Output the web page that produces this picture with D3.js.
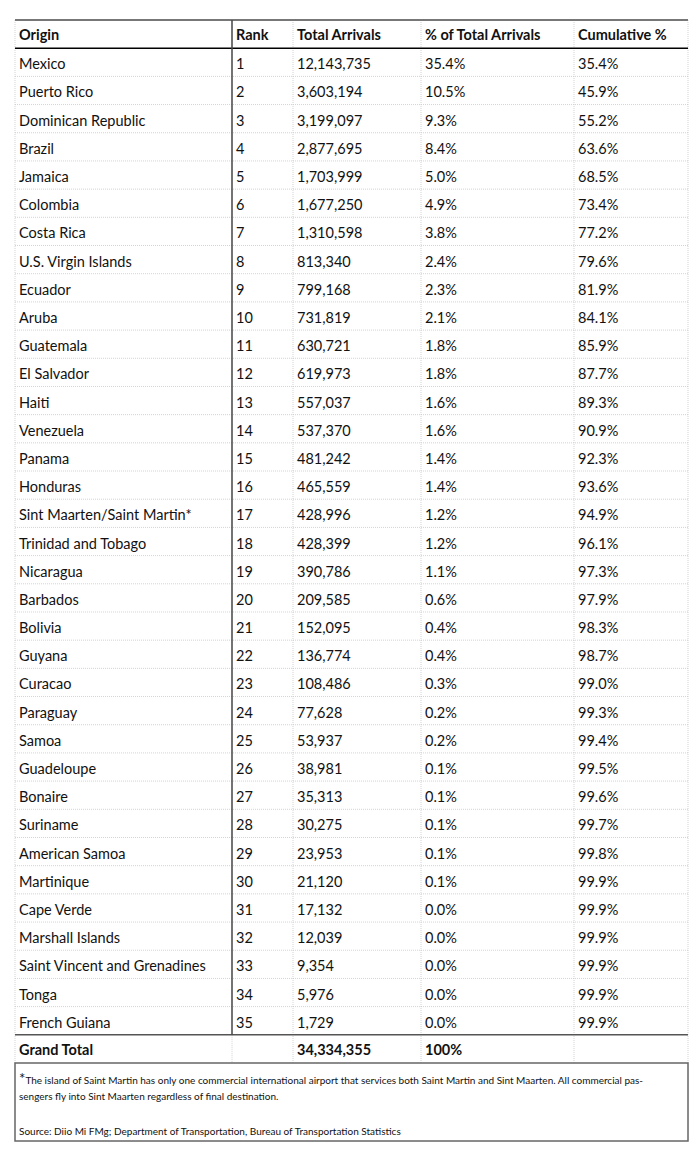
<!DOCTYPE html>
<html><head><meta charset="utf-8">
<script src="https://cdn.jsdelivr.net/npm/d3@7"></script>
<style>body{margin:0;background:#fff}svg{display:block}text{font-family:Lato,"Open Sans",sans-serif;fill:#111}</style>
</head><body><svg id="c" width="700" height="1165"></svg>
<script>
const headers = ["Origin","Rank","Total Arrivals","% of Total Arrivals","Cumulative %"];
const origins = ["Mexico","Puerto Rico","Dominican Republic","Brazil","Jamaica","Colombia","Costa Rica","U.S. Virgin Islands","Ecuador","Aruba","Guatemala","El Salvador","Haiti","Venezuela","Panama","Honduras","Sint Maarten/Saint Martin*","Trinidad and Tobago","Nicaragua","Barbados","Bolivia","Guyana","Curacao","Paraguay","Samoa","Guadeloupe","Bonaire","Suriname","American Samoa","Martinique","Cape Verde","Marshall Islands","Saint Vincent and Grenadines","Tonga","French Guiana"];
const ranks = d3.range(1, 36);
const arrivals = [12143735,3603194,3199097,2877695,1703999,1677250,1310598,813340,799168,731819,630721,619973,557037,537370,481242,465559,428996,428399,390786,209585,152095,136774,108486,77628,53937,38981,35313,30275,23953,21120,17132,12039,9354,5976,1729];
const pctTotal = ["35.4%","10.5%","9.3%","8.4%","5.0%","4.9%","3.8%","2.4%","2.3%","2.1%","1.8%","1.8%","1.6%","1.6%","1.4%","1.4%","1.2%","1.2%","1.1%","0.6%","0.4%","0.4%","0.3%","0.2%","0.2%","0.1%","0.1%","0.1%","0.1%","0.1%","0.0%","0.0%","0.0%","0.0%","0.0%"];
const cumPct = ["35.4%","45.9%","55.2%","63.6%","68.5%","73.4%","77.2%","79.6%","81.9%","84.1%","85.9%","87.7%","89.3%","90.9%","92.3%","93.6%","94.9%","96.1%","97.3%","97.9%","98.3%","98.7%","99.0%","99.3%","99.4%","99.5%","99.6%","99.7%","99.8%","99.9%","99.9%","99.9%","99.9%","99.9%","99.9%"];
const grandTotal = ["Grand Total","",34334355,"100%",""];
const footnote1 = "The island of Saint Martin has only one commercial international airport that services both Saint Martin and Sint Maarten. All commercial pas-";
const footnote2 = "sengers fly into Sint Maarten regardless of final destination.";
const source = "Source: Diio Mi FMg; Department of Transportation, Bureau of Transportation Statistics";

const svg = d3.select("#c");
const fmt = d3.format(",");
const colEdges = [15, 232, 293, 421, 574, 688];
const x = d3.scaleOrdinal().domain(headers).range(colEdges.slice(0,5));
const rowKeys = ["header", ...origins, "total"];
const y = d3.scaleBand().domain(rowKeys).range([20, 1063]).paddingInner(0);
const rows = origins.map((o,i)=>[o, String(ranks[i]), fmt(arrivals[i]), pctTotal[i], cumPct[i]]);
const L = 15, R = 688;
const tableTop = y("header"), bh = y.bandwidth();
const dataBottom = y("total");
const FS = 14.5, BL = bh/2 + 7;

const g = svg.append("g");
g.selectAll("line.h").data(origins.slice(1)).join("line")
  .attr("x1",L).attr("x2",R).attr("y1",d=>y(d)).attr("y2",d=>y(d))
  .attr("stroke","#c8c8c8").attr("stroke-width",0.8).attr("stroke-dasharray","1,1");
g.selectAll("line.v").data([15,293,421,574,688]).join("line")
  .attr("x1",d=>d).attr("x2",d=>d).attr("y1",tableTop).attr("y2",y("total")+bh)
  .attr("stroke","#c8c8c8").attr("stroke-width",0.8).attr("stroke-dasharray","1,1");
g.append("line").attr("x1",232).attr("x2",232).attr("y1",y("total")).attr("y2",y("total")+bh)
  .attr("stroke","#c8c8c8").attr("stroke-width",0.8).attr("stroke-dasharray","1,1");
g.append("line").attr("x1",L).attr("x2",R).attr("y1",tableTop).attr("y2",tableTop).attr("stroke","#777").attr("stroke-width",2);
g.append("line").attr("x1",L).attr("x2",R).attr("y1",y(origins[0])).attr("y2",y(origins[0])).attr("stroke","#000").attr("stroke-width",1.5);
g.append("line").attr("x1",L).attr("x2",R).attr("y1",dataBottom).attr("y2",dataBottom).attr("stroke","#555").attr("stroke-width",1.5);
g.append("line").attr("x1",232).attr("x2",232).attr("y1",tableTop).attr("y2",dataBottom).attr("stroke","#444").attr("stroke-width",1.5);

svg.append("g").selectAll("text").data(headers).join("text")
  .attr("x",d=>x(d)+4).attr("y",tableTop+BL-1).attr("font-size",FS).attr("font-weight","bold").text(d=>d);
const rg = svg.append("g").selectAll("g").data(rows).join("g")
  .attr("transform",d=>`translate(0,${y(d[0])+BL})`);
rg.selectAll("text").data(d=>d).join("text")
  .attr("x",(d,i)=>colEdges[i]+4).attr("font-size",FS).text(d=>d);
svg.append("g").selectAll("text").data(grandTotal).join("text")
  .attr("x",(d,i)=>colEdges[i]+4).attr("y",y("total")+BL-1).attr("font-size",FS).attr("font-weight","bold")
  .text(d=>typeof d==="number"?fmt(d):d);

const fy = y("total")+bh;
svg.append("rect").attr("x",L).attr("y",fy).attr("width",R-L).attr("height",78)
  .attr("fill","none").attr("stroke","#666").attr("stroke-width",1.5);
const ft = svg.append("text").attr("x",19).attr("y",fy+21).attr("font-size",10);
ft.append("tspan").attr("font-size",15).text("*");
ft.append("tspan").text(footnote1);
svg.append("text").attr("x",19).attr("y",fy+37).attr("font-size",10).text(footnote2);
svg.append("text").attr("x",19).attr("y",fy+72).attr("font-size",10).text(source);
</script></body></html>
